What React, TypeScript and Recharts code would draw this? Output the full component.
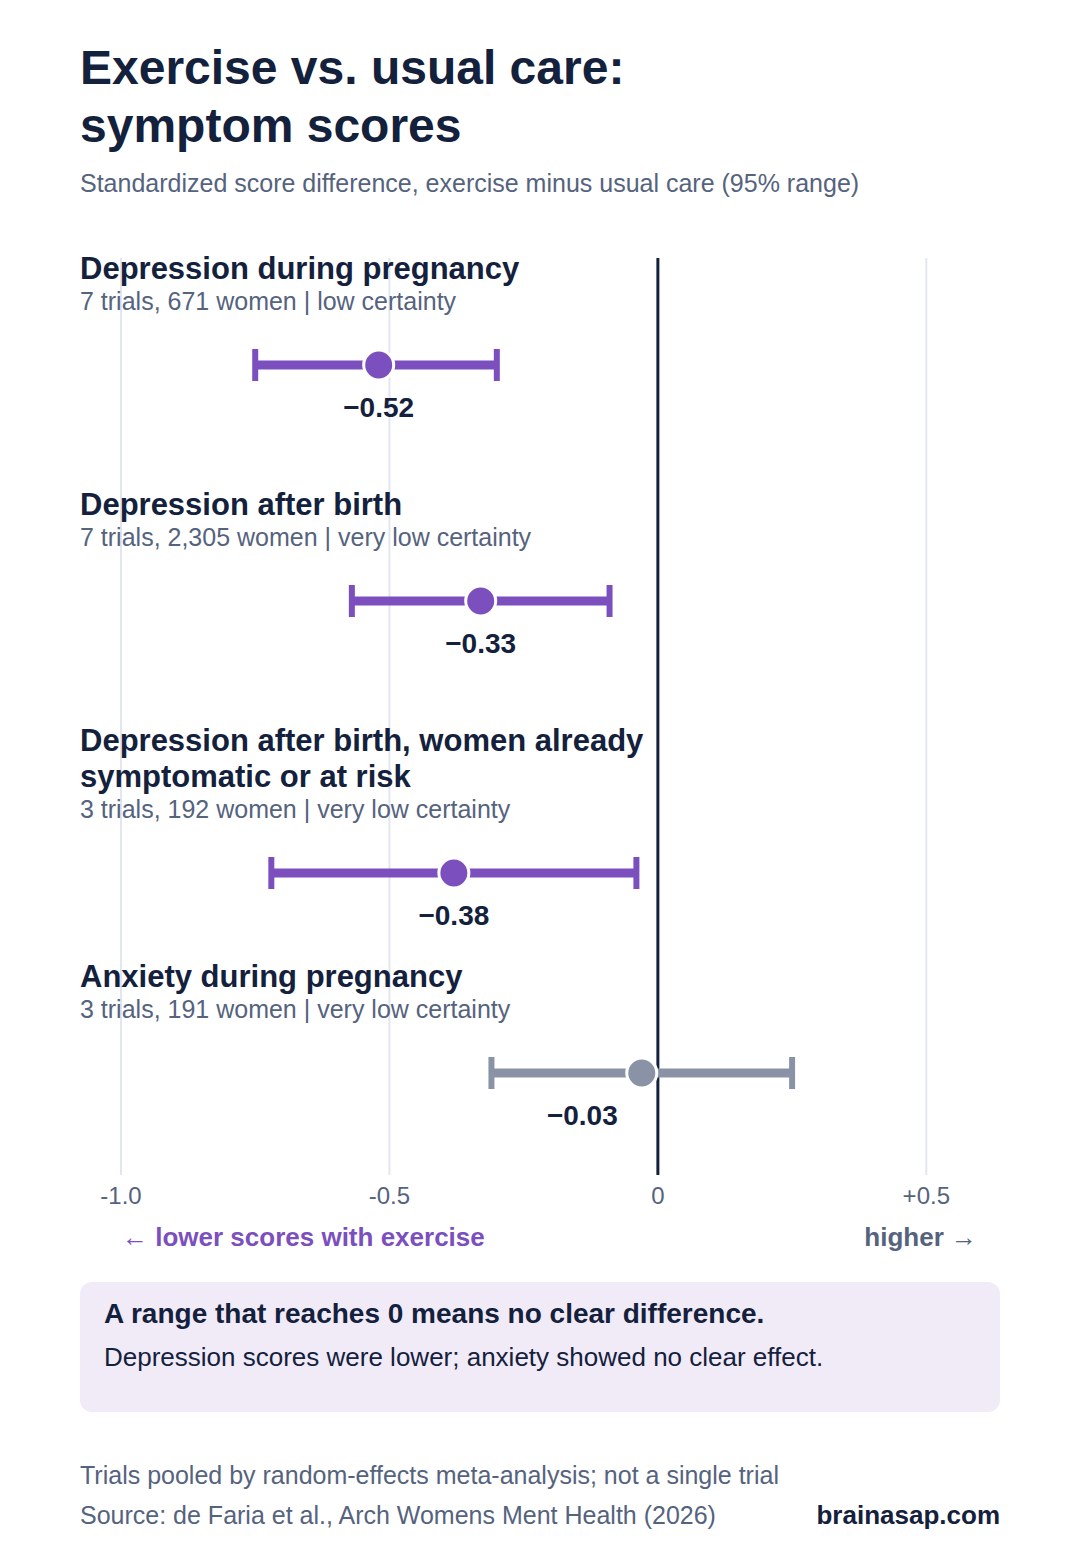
import React from 'react';
import { ScatterChart, Scatter, XAxis, YAxis, ReferenceLine, ErrorBar } from 'recharts';

const outcomes = [
  'Depression during pregnancy',
  'Depression after birth',
  'Depression after birth, women already symptomatic or at risk',
  'Anxiety during pregnancy',
];
const details = [
  '7 trials, 671 women | low certainty',
  '7 trials, 2,305 women | very low certainty',
  '3 trials, 192 women | very low certainty',
  '3 trials, 191 women | very low certainty',
];
const effects = [-0.52, -0.33, -0.38, -0.03];
const lower = [-0.75, -0.57, -0.72, -0.31];
const upper = [-0.3, -0.09, -0.04, 0.25];
const xTicks = [-1, -0.5, 0, 0.5];

const FONT = '"Liberation Sans", Arial, sans-serif';
const DARK = '#14213d';
const GREY_TEXT = '#55637e';
const PURPLE = '#7c4fbe';
const MUTED = '#8a93a6';
const GRID = '#e2e6f0';

const CHART_W = 1080;
const CHART_H = 1040;
const MARGIN = { top: 28, right: 100, bottom: 55, left: 121 };
const AXIS_H = 40;
const PLOT_H = CHART_H - MARGIN.top - MARGIN.bottom - AXIS_H;
const ROW_H = 236;
const LINE_H = 36;

// naive word wrap for the row headings
const wrap = (s: string, max = 38) => {
  const out: string[] = [];
  let cur = '';
  s.split(' ').forEach(w => {
    const next = cur ? cur + ' ' + w : w;
    if (next.length > max && cur) {
      out.push(cur);
      cur = w;
    } else cur = next;
  });
  if (cur) out.push(cur);
  return out;
};

const rows = outcomes.map((name, i) => {
  const lines = wrap(name);
  return {
    lines,
    detail: details[i],
    effect: effects[i],
    pos: 107 + ROW_H * i + LINE_H * (lines.length - 1),
    err: [effects[i] - lower[i], upper[i] - effects[i]],
    clear: upper[i] < 0,
  };
});

const clearRows = rows.filter(r => r.clear);
const unclearRows = rows.filter(r => !r.clear);

const fmtValue = (v: number) => (v < 0 ? '\u2212' : '') + Math.abs(v).toFixed(2);
const fmtTick = (v: number) => (v === 0 ? '0' : (v > 0 ? '+' : '') + v.toFixed(1));

const RowShape = (color: string) => (props: any) => {
  const { cx, cy, payload } = props;
  const n = payload.lines.length;
  const top = cy - 97 - LINE_H * (n - 1);
  // keep the value label off the zero line
  const nearZero = Math.abs(payload.effect) < 0.1;
  return (
    <g>
      {payload.lines.map((l: string, k: number) => (
        <text key={k} x={80} y={top + LINE_H * k + 11} fontSize={31} fontWeight={700} fill={DARK} fontFamily={FONT}>
          {l}
        </text>
      ))}
      <text x={80} y={cy - 55} fontSize={25} fill={GREY_TEXT} fontFamily={FONT}>
        {payload.detail}
      </text>
      <circle cx={cx} cy={cy} r={15} fill={color} stroke="#fff" strokeWidth={3} />
      <text
        x={nearZero ? cx - 24 : cx}
        y={cy + 52}
        textAnchor={nearZero ? 'end' : 'middle'}
        fontSize={28}
        fontWeight={700}
        fill={DARK}
        fontFamily={FONT}
      >
        {fmtValue(payload.effect)}
      </text>
    </g>
  );
};

const Tick = (props: any) => {
  const { x, y, payload } = props;
  return (
    <text x={x} y={y} dy={21} textAnchor="middle" fontSize={24} fill={GREY_TEXT} fontFamily={FONT}>
      {fmtTick(payload.value)}
    </text>
  );
};

const abs = (top: number, extra: React.CSSProperties = {}): React.CSSProperties => ({
  position: 'absolute',
  top,
  left: 80,
  whiteSpace: 'nowrap',
  ...extra,
});

export default function App() {
  return (
    <div style={{ position: 'absolute', top: 0, left: 0, width: 1080, height: 1560, background: '#fff', fontFamily: FONT, color: DARK }}>
      <div style={abs(39, { fontSize: 48, fontWeight: 700, lineHeight: '58px' })}>
        Exercise vs. usual care:
        <br />
        symptom scores
      </div>
      <div style={abs(168, { fontSize: 25, lineHeight: '30px', color: GREY_TEXT })}>
        Standardized score difference, exercise minus usual care (95% range)
      </div>

      <div style={{ position: 'absolute', top: 230, left: 0 }}>
        <ScatterChart width={CHART_W} height={CHART_H} margin={MARGIN}>
          <XAxis
            type="number"
            dataKey="effect"
            domain={[-1, 0.6]}
            ticks={xTicks}
            height={AXIS_H}
            axisLine={false}
            tickLine={false}
            tick={<Tick />}
          />
          <YAxis type="number" dataKey="pos" domain={[0, PLOT_H]} reversed hide />
          {xTicks
            .filter(t => t !== 0)
            .map(t => (
              <ReferenceLine key={t} x={t} stroke={GRID} strokeWidth={2} />
            ))}
          <ReferenceLine x={0} stroke={DARK} strokeWidth={3} />
          <Scatter data={clearRows} fill={PURPLE} shape={RowShape(PURPLE)} isAnimationActive={false}>
            <ErrorBar dataKey="err" direction="x" width={0} stroke={PURPLE} strokeWidth={9} isAnimationActive={false} />
            <ErrorBar dataKey="err" direction="x" width={16} stroke={PURPLE} strokeWidth={6} isAnimationActive={false} />
          </Scatter>
          <Scatter data={unclearRows} fill={MUTED} shape={RowShape(MUTED)} isAnimationActive={false}>
            <ErrorBar dataKey="err" direction="x" width={0} stroke={MUTED} strokeWidth={9} isAnimationActive={false} />
            <ErrorBar dataKey="err" direction="x" width={16} stroke={MUTED} strokeWidth={6} isAnimationActive={false} />
          </Scatter>
        </ScatterChart>
      </div>

      <div style={{ position: 'absolute', top: 1222, left: 122, fontSize: 26, lineHeight: '30px', fontWeight: 700, color: PURPLE, whiteSpace: 'nowrap' }}>
        ← lower scores with exercise
      </div>
      <div style={{ position: 'absolute', top: 1222, right: 103, fontSize: 26, lineHeight: '30px', fontWeight: 700, color: GREY_TEXT, whiteSpace: 'nowrap' }}>
        higher →
      </div>

      <div style={{ position: 'absolute', top: 1282, left: 80, width: 920, height: 130, background: '#f1ebf8', borderRadius: 12 }}>
        <div style={{ position: 'absolute', top: 17, left: 24, fontSize: 28, lineHeight: '30px', fontWeight: 700, whiteSpace: 'nowrap' }}>
          A range that reaches 0 means no clear difference.
        </div>
        <div style={{ position: 'absolute', top: 60, left: 24, fontSize: 26, lineHeight: '30px', whiteSpace: 'nowrap' }}>
          Depression scores were lower; anxiety showed no clear effect.
        </div>
      </div>

      <div style={abs(1460, { fontSize: 25, lineHeight: '30px', color: GREY_TEXT })}>
        Trials pooled by random-effects meta-analysis; not a single trial
      </div>
      <div style={abs(1500, { fontSize: 25, lineHeight: '30px', color: GREY_TEXT })}>
        Source: de Faria et al., Arch Womens Ment Health (2026)
      </div>
      <div style={{ position: 'absolute', top: 1500, right: 80, fontSize: 26, lineHeight: '30px', fontWeight: 700, whiteSpace: 'nowrap' }}>
        brainasap.com
      </div>
    </div>
  );
}
